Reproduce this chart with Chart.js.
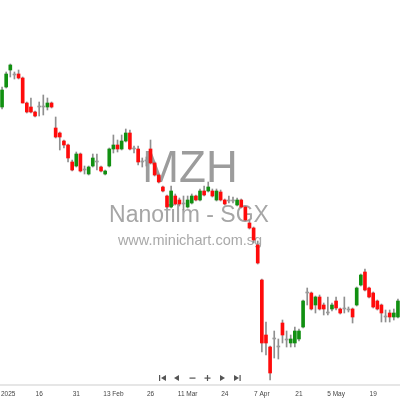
<!DOCTYPE html>
<html>
<head>
<meta charset="utf-8">
<script src="https://cdn.jsdelivr.net/npm/chart.js@4.4.1/dist/chart.umd.min.js"></script>
<style>
  html, body { margin: 0; padding: 0; background: #fff; }
  #wrap { width: 400px; height: 400px; }
</style>
</head>
<body>
<div id="wrap"><canvas id="chart" width="400" height="400"></canvas></div>
<script>
// MZH daily candles, Jan - May 2025
const opens = [
  0.793, 0.813, 0.830, 0.825, 0.826, 0.822, 0.797, 0.793, 0.788, 0.793,
  0.793, 0.793, 0.797, 0.772, 0.767, 0.759, 0.755, 0.738, 0.734, 0.746,
  0.730, 0.726, 0.734, 0.738, 0.733, 0.726, 0.734, 0.751, 0.755, 0.751,
  0.759, 0.767, 0.751, 0.751, 0.738, 0.739, 0.751, 0.737, 0.725, 0.713,
  0.704, 0.693, 0.704, 0.700, 0.696, 0.693, 0.697, 0.704, 0.700, 0.709,
  0.709, 0.709, 0.700, 0.708, 0.700, 0.699, 0.699, 0.695, 0.700, 0.693,
  0.677, 0.672, 0.655, 0.620, 0.565, 0.553, 0.561, 0.553, 0.577, 0.560,
  0.557, 0.557, 0.561, 0.573, 0.607, 0.607, 0.595, 0.603, 0.595, 0.587,
  0.591, 0.599, 0.591, 0.591, 0.590, 0.591, 0.595, 0.615, 0.628, 0.612,
  0.607, 0.599, 0.595, 0.583, 0.587, 0.583, 0.583
]
const highs = [
  0.813, 0.828, 0.836, 0.828, 0.830, 0.823, 0.798, 0.802, 0.789, 0.798,
  0.805, 0.802, 0.798, 0.783, 0.768, 0.760, 0.756, 0.740, 0.748, 0.747,
  0.734, 0.734, 0.746, 0.746, 0.734, 0.730, 0.752, 0.765, 0.760, 0.765,
  0.771, 0.770, 0.754, 0.754, 0.742, 0.743, 0.760, 0.738, 0.726, 0.714,
  0.705, 0.714, 0.706, 0.702, 0.704, 0.704, 0.706, 0.705, 0.711, 0.714,
  0.718, 0.711, 0.711, 0.710, 0.701, 0.704, 0.703, 0.702, 0.701, 0.694,
  0.680, 0.673, 0.659, 0.621, 0.578, 0.554, 0.569, 0.561, 0.580, 0.569,
  0.565, 0.573, 0.571, 0.600, 0.612, 0.608, 0.604, 0.605, 0.597, 0.603,
  0.597, 0.603, 0.592, 0.603, 0.593, 0.592, 0.613, 0.626, 0.631, 0.613,
  0.608, 0.600, 0.596, 0.590, 0.590, 0.591, 0.601
]
const lows = [
  0.791, 0.812, 0.823, 0.821, 0.821, 0.797, 0.787, 0.787, 0.783, 0.784,
  0.785, 0.790, 0.792, 0.762, 0.750, 0.752, 0.738, 0.729, 0.733, 0.728,
  0.726, 0.725, 0.733, 0.730, 0.728, 0.725, 0.733, 0.747, 0.748, 0.750,
  0.758, 0.750, 0.747, 0.735, 0.733, 0.734, 0.736, 0.724, 0.717, 0.708,
  0.692, 0.692, 0.695, 0.694, 0.690, 0.692, 0.696, 0.699, 0.699, 0.704,
  0.708, 0.703, 0.699, 0.699, 0.695, 0.697, 0.697, 0.694, 0.692, 0.679,
  0.671, 0.657, 0.636, 0.548, 0.545, 0.520, 0.542, 0.541, 0.557, 0.553,
  0.553, 0.553, 0.559, 0.572, 0.595, 0.590, 0.587, 0.590, 0.585, 0.585,
  0.589, 0.590, 0.586, 0.587, 0.588, 0.577, 0.594, 0.614, 0.609, 0.602,
  0.592, 0.590, 0.578, 0.578, 0.578, 0.580, 0.582
]
const closes = [
  0.810, 0.826, 0.835, 0.825, 0.822, 0.797, 0.788, 0.788, 0.784, 0.793,
  0.793, 0.797, 0.793, 0.763, 0.763, 0.755, 0.742, 0.730, 0.746, 0.729,
  0.730, 0.733, 0.742, 0.738, 0.729, 0.729, 0.751, 0.755, 0.751, 0.759,
  0.767, 0.751, 0.751, 0.738, 0.738, 0.739, 0.737, 0.725, 0.718, 0.709,
  0.693, 0.709, 0.696, 0.696, 0.696, 0.700, 0.704, 0.700, 0.709, 0.705,
  0.713, 0.704, 0.709, 0.700, 0.696, 0.699, 0.699, 0.700, 0.693, 0.680,
  0.672, 0.660, 0.637, 0.557, 0.557, 0.527, 0.561, 0.553, 0.565, 0.560,
  0.561, 0.569, 0.569, 0.599, 0.607, 0.591, 0.603, 0.591, 0.591, 0.587,
  0.595, 0.592, 0.587, 0.591, 0.590, 0.583, 0.612, 0.625, 0.610, 0.603,
  0.593, 0.591, 0.587, 0.583, 0.583, 0.587, 0.599
]

// x axis labels, one every 9 sessions
const tickIdx = [0, 9, 18, 27, 36, 45, 54, 63, 72, 81, 90]
const tickLabels = ["Jan 2025", "16", "31", "13 Feb", "26", "11 Mar", "24", "7 Apr", "21", "5 May", "19"]

const UP = "#119011"
const DOWN = "#ff0b0b"
const FLAT = "#9a9a9a"

const labels = opens.map((_, i) => i)
const bodies = opens.map((o, i) => [o, closes[i]])
const wicks = lows.map((l, i) => [l, highs[i]])
const bodyColors = opens.map((o, i) => closes[i] > o ? UP : closes[i] < o ? DOWN : FLAT)

// watermark behind the candles
const watermark = {
  id: "watermark",
  beforeDatasetsDraw(chart) {
    const ctx = chart.ctx
    ctx.save()
    ctx.textAlign = "center"
    ctx.textBaseline = "alphabetic"
    ctx.fillStyle = "#9c9c9c"
    ctx.font = "44px 'Liberation Sans Narrow', 'Liberation Sans', sans-serif"
    ctx.fillText("MZH", 190, 182)
    ctx.fillStyle = "#a6a6a6"
    ctx.font = "23px 'Liberation Sans', Arial, sans-serif"
    ctx.fillText("Nanofilm - SGX", 189, 222)
    ctx.fillStyle = "#a9a9a9"
    ctx.font = "14.5px 'Liberation Sans', Arial, sans-serif"
    ctx.fillText("www.minichart.com.sg", 190, 245)
    ctx.restore()
  }
}

// little navigation buttons above the axis
const navButtons = {
  id: "navButtons",
  afterDraw(chart) {
    const ctx = chart.ctx
    const y = 378
    ctx.save()
    ctx.fillStyle = "#555"
    const tri = (x, dir) => {
      ctx.beginPath()
      ctx.moveTo(x - 2.5 * dir, y)
      ctx.lineTo(x + 2.5 * dir, y - 3)
      ctx.lineTo(x + 2.5 * dir, y + 3)
      ctx.closePath()
      ctx.fill()
    }
    // first
    ctx.fillRect(159, y - 3, 1.2, 6)
    tri(163.5, 1)
    // back
    tri(176.5, 1)
    // zoom out
    ctx.fillRect(189.5, y - 0.5, 6, 1.2)
    // zoom in
    ctx.fillRect(204.5, y - 0.5, 6, 1.2)
    ctx.fillRect(206.9, y - 3, 1.2, 6)
    // forward
    tri(222.5, -1)
    // last
    tri(236.5, -1)
    ctx.fillRect(239.5, y - 3, 1.2, 6)
    ctx.restore()
  }
}

const ctx = document.getElementById("chart").getContext("2d")

new Chart(ctx, {
  type: "bar",
  data: {
    labels: labels,
    datasets: [
      {
        label: "body",
        data: bodies,
        backgroundColor: bodyColors,
        barThickness: 3,
        minBarLength: 1,
        grouped: false,
        order: 0,
      },
      {
        label: "wick",
        data: wicks,
        backgroundColor: "#8f8f8f",
        barThickness: 1,
        grouped: false,
        order: 1,
      },
    ],
  },
  options: {
    responsive: false,
    animation: false,
    devicePixelRatio: 1,
    layout: { padding: 0 },
    plugins: {
      legend: { display: false },
      tooltip: { enabled: false },
    },
    scales: {
      x: {
        offset: true,
        grid: { display: false, drawTicks: false, tickLength: 0 },
        border: { display: true, color: "#e6e6e6", width: 2 },
        ticks: {
          autoSkip: false,
          maxRotation: 0,
          padding: 5,
          color: "#444",
          font: { family: "'Liberation Sans', Arial, sans-serif", size: 6.5 },
          callback: (value, index) => {
            const k = tickIdx.indexOf(index)
            return k >= 0 ? tickLabels[k] : ""
          },
        },
        afterFit: (scale) => {
          scale.height = 15
          scale.paddingLeft = 0
          scale.paddingRight = 0
        },
      },
      y: {
        display: false,
        min: 0.515,
        max: 0.9,
      },
    },
  },
  plugins: [watermark, navButtons],
})
</script>
</body>
</html>
